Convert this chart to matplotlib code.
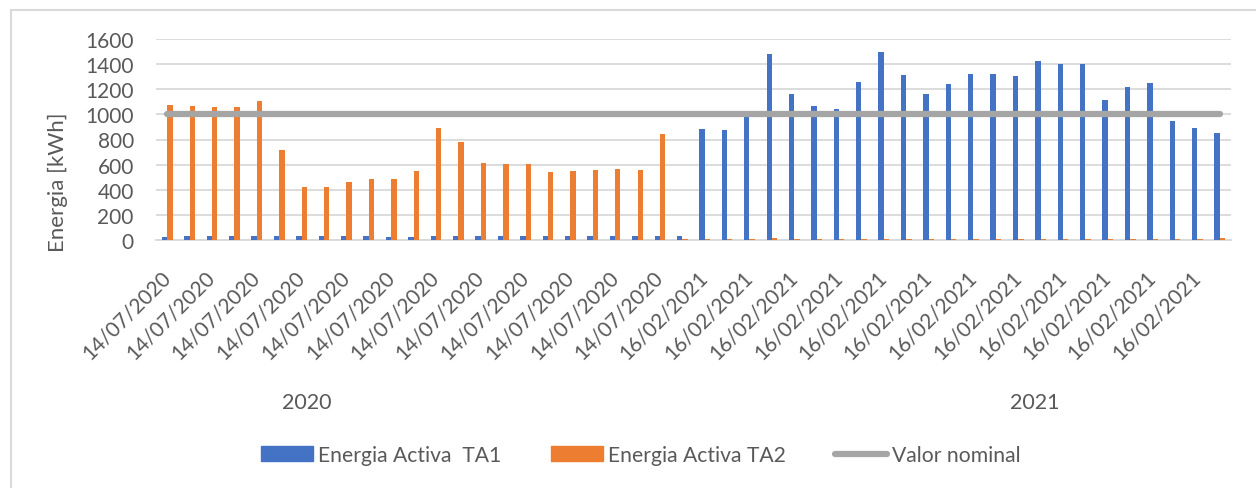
import numpy as np
import matplotlib.pyplot as plt
from matplotlib.patches import Patch, Rectangle
from matplotlib.lines import Line2D

plt.rcParams['font.family'] = ['Lato', 'DejaVu Sans']

# Data (kWh)
years = ['2020', '2021']
dates = ['14/07/2020'] * 24 + ['16/02/2021'] * 24

ta1_2020 = [27, 28, 30, 30, 28, 28, 28, 28, 28, 28, 26, 27,
            28, 28, 28, 28, 28, 28, 28, 28, 28, 28, 28, 29]
ta2_2020 = [1074, 1064, 1061, 1061, 1104, 719, 424, 419, 464, 485, 488, 552,
            889, 777, 613, 602, 602, 541, 547, 557, 562, 557, 841, 8]
ta1_2021 = [883, 873, 976, 1478, 1162, 1064, 1043, 1260, 1499, 1316, 1162, 1242,
            1324, 1324, 1303, 1427, 1403, 1401, 1114, 1218, 1247, 944, 889, 849]
ta2_2021 = [9, 9, 9, 12, 9, 9, 9, 9, 9, 9, 9, 9,
            9, 9, 9, 9, 9, 9, 9, 9, 9, 9, 9, 12]
nominal = 1000

ta1 = np.array(ta1_2020 + ta1_2021)
ta2 = np.array(ta2_2020 + ta2_2021)
x = np.arange(len(dates))

blue = '#4472c4'
orange = '#ed7d31'
grey = '#a5a5a5'
txt = '#595959'
fs = 15

fig = plt.figure(figsize=(12.56, 4.89), dpi=100)
ax = fig.add_axes([156 / 1256, 1 - 241 / 489, 1075 / 1256, 201 / 489])

w = 0.24
ax.bar(x - w / 2, ta1, width=w, color=blue, zorder=3)
ax.bar(x + w / 2, ta2, width=w, color=orange, zorder=3)
ax.plot(x, [nominal] * len(x), color=grey, lw=4.5, solid_capstyle='round', zorder=4)

ax.set_xlim(-0.5, len(x) - 0.5)
ax.set_ylim(0, 1600)
ax.set_yticks(range(0, 1601, 200))
ax.yaxis.grid(True, color='#d9d9d9', lw=1.3, zorder=0)
ax.set_axisbelow(True)
for s in ['top', 'right', 'left']:
    ax.spines[s].set_visible(False)
ax.spines['bottom'].set_color('#d9d9d9')
ax.spines['bottom'].set_linewidth(1.3)
ax.tick_params(axis='y', length=0, pad=16, labelsize=fs, labelcolor=txt)

# rotated date labels on every other category
ax.set_xticks(x[::2])
ax.set_xticklabels(dates[::2], rotation=45, ha='right', va='center',
                   rotation_mode='anchor', fontsize=fs, color=txt)
ax.tick_params(axis='x', length=0, pad=24)

fig.text(58 / 1256, 1 - 182 / 489, 'Energia [kWh]', rotation=90, ha='center',
         va='center', fontsize=16, color=txt)

# year group labels
fig.text(307 / 1256, 1 - 403 / 489, years[0], ha='center', va='center', fontsize=15.5, color=txt)
fig.text(1035 / 1256, 1 - 403 / 489, years[1], ha='center', va='center', fontsize=15.5, color=txt)

handles = [Patch(color=blue), Patch(color=orange),
           Line2D([], [], color=grey, lw=4.5, solid_capstyle='round')]
fig.legend(handles, ['Energia Activa  TA1', 'Energia Activa TA2', 'Valor nominal'],
           loc='center', bbox_to_anchor=(641 / 1256, 1 - 456 / 489), ncol=3,
           frameon=False, fontsize=15.2, labelcolor=txt, handlelength=2.45,
           handletextpad=0.25, columnspacing=2.35)

# chart border
fig.patches.append(Rectangle((11 / 1256, -0.1), 1.2, 1 - 11 / 489 + 0.1,
                             transform=fig.transFigure, fill=False,
                             edgecolor='#d9d9d9', lw=1.5))

fig.savefig('out.png', dpi=100)
